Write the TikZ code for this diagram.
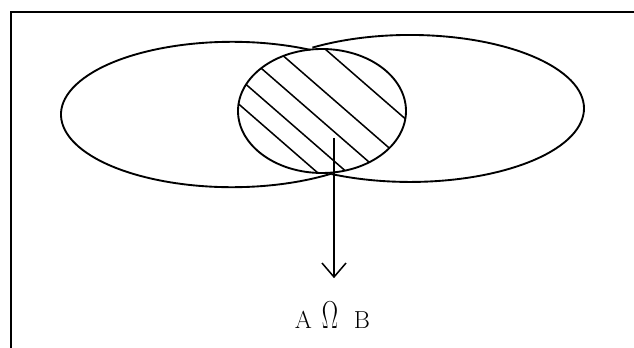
\documentclass[tikz,border=0pt]{standalone}
\usepackage{fontspec}
\usepackage{graphicx}
\usetikzlibrary{arrows.meta}

\begin{document}
\begin{tikzpicture}[
    x=0.03cm, y=-0.03cm,
    frame/.style={draw=black, line width=2pt},
    set/.style={draw=black, line width=1.6pt},
    hatch/.style={draw=black, line width=1.3pt},
    arrow/.style={-{Straight Barb[length=4.2mm, width=7.2mm]}, line width=1.3pt, draw=black},
    label/.style={inner sep=0pt, font=\fontsize{21}{24}\selectfont}
  ]
    \useasboundingbox (0,0) rectangle (634,348);
    \draw[frame] (10.7,348) |- (634,11.7);
    % outer parts of the two sets
    \draw[set] (309.9,49.8) arc [start angle=-62.9, end angle=-305.8, x radius=171, y radius=72.7];
    \draw[set] (312.45,47.6) arc [start angle=-124.1, end angle=116.8, x radius=174, y radius=73.5];
    % common part, hatched
    \draw[set] (322,111) ellipse [x radius=84, y radius=62];
    \begin{scope}
      \clip (322,111) ellipse [x radius=84, y radius=62];
      \foreach \c in {-103.6,-129.6,-159,-190.6,-233.8}
        \draw[hatch] (200,{174+\c}) -- (450,{391.5+\c});
    \end{scope}
    \coordinate (start) at (334,138);
    \node[label, anchor=base] (cap) at (332.5,329) {A\hspace{8.5pt}\scalebox{1}[1.6]{$\Omega$}\hspace{13.5pt}B};
    \draw[arrow, shorten >=0.72cm] (start) -- (start |- cap.north);
\end{tikzpicture}
\end{document}
